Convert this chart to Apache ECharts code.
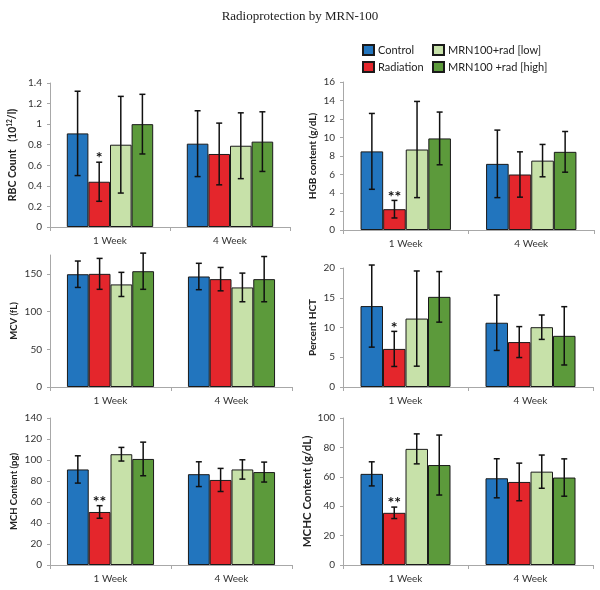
<html>
<head>
<meta charset="utf-8">
<script type="text/javascript" src="https://cdn.jsdelivr.net/npm/echarts@6/dist/echarts.min.js"></script>
<style type="text/css">
	body { margin: 0; background: #fff; }
	#chart { width: 600px; height: 590px; }
</style>
<title>Radioprotection by MRN-100</title>
</head>
<body>
<div id="chart"></div>
<script type="text/javascript">
// categories / groups
const weeks = ['1 Week', '4 Week'];
const groups = ['Control', 'Radiation', 'MRN100+rad [low]', 'MRN100 +rad [high]'];
const colors = ['#2275be', '#e4262c', '#c7e1a9', '#5c9a3b'];

// values: one row per group, [1 Week, 4 Week]
const rbcMean = [[0.91, 0.81], [0.44, 0.71], [0.80, 0.79], [1.00, 0.83]];
const rbcSd   = [[0.41, 0.32], [0.19, 0.30], [0.47, 0.32], [0.29, 0.29]];
const hgbMean = [[8.5, 7.15], [2.25, 6.0], [8.7, 7.5], [9.9, 8.45]];
const hgbSd   = [[4.1, 3.65], [0.95, 2.45], [5.2, 1.75], [2.85, 2.2]];
const mcvMean = [[149.5, 146.5], [150, 143], [136, 132], [153.5, 143]];
const mcvSd   = [[17.5, 17.5], [20.5, 15.5], [16, 19], [24, 30]];
const hctMean = [[13.6, 10.8], [6.4, 7.55], [11.5, 10.05], [15.15, 8.6]];
const hctSd   = [[6.9, 4.65], [2.95, 2.6], [8.0, 2.05], [4.25, 4.9]];
const mchMean = [[91, 86.5], [50.5, 81], [105.5, 91], [101, 88.5]];
const mchSd   = [[13, 11.8], [6, 11], [6.5, 9.2], [16, 9.5]];
const mchcMean = [[62, 59], [35.5, 56.5], [79, 63.5], [68, 59.5]];
const mchcSd   = [[8.2, 13.3], [3.9, 12.8], [10.2, 11.3], [20.4, 12.7]];

// significance marks, one row per group, [1 Week, 4 Week]
const rbcSig  = [['', ''], ['*', ''], ['', ''], ['', '']];
const hgbSig  = [['', ''], ['**', ''], ['', ''], ['', '']];
const mcvSig  = [['', ''], ['', ''], ['', ''], ['', '']];
const hctSig  = [['', ''], ['*', ''], ['', ''], ['', '']];
const mchSig  = [['', ''], ['**', ''], ['', ''], ['', '']];
const mchcSig = [['', ''], ['**', ''], ['', ''], ['', '']];

const GAP = 0.28;
const FONT = 'Lato, "Open Sans", sans-serif';
const AXIS = '#a8a8a8';

const panels = [
	{ name: 'RBC Count   (10{sup|12}/l)', nameSize: 10.5, mean: rbcMean, sd: rbcSd, sig: rbcSig, max: 1.4, interval: 0.2,
	  grid: { left: 50, right: 310, top: 83, bottom: 363 } },
	{ name: 'HGB content (g/dL)', nameSize: 10, mean: hgbMean, sd: hgbSd, sig: hgbSig, max: 16, interval: 2,
	  grid: { left: 343, right: 6, top: 82, bottom: 360 } },
	{ name: 'MCV (fL)', nameSize: 9.5, mean: mcvMean, sd: mcvSd, sig: mcvSig, max: 175, interval: 50, hideMax: true,
	  grid: { left: 50, right: 308, top: 255, bottom: 203 } },
	{ name: 'Percent HCT', nameSize: 10, mean: hctMean, sd: hctSd, sig: hctSig, max: 20, interval: 5,
	  grid: { left: 343, right: 7, top: 268, bottom: 203 } },
	{ name: 'MCH Content (pg)', nameSize: 9.5, mean: mchMean, sd: mchSd, sig: mchSig, max: 140, interval: 20,
	  grid: { left: 50, right: 308, top: 418, bottom: 25 } },
	{ name: 'MCHC Content (g/dL)', nameSize: 11.5, mean: mchcMean, sd: mchcSd, sig: mchcSig, max: 100, interval: 20,
	  grid: { left: 343, right: 7, top: 418, bottom: 25 } }
];

function errRender(gi, sig) {
	return function (params, api) {
		let cat = api.value(0);
		let lo = api.coord([cat, api.value(1)]);
		let hi = api.coord([cat, api.value(2)]);
		let band = api.size([1, 0])[0];
		let bw = band * (1 - GAP) / 4;
		let x = lo[0] + (gi - 1.5) * bw;
		let cap = 3;
		let st = { stroke: '#111', lineWidth: 1.5 };
		let children = [
			{ type: 'line', shape: { x1: x, y1: lo[1], x2: x, y2: hi[1] }, style: st },
			{ type: 'line', shape: { x1: x - cap, y1: lo[1], x2: x + cap, y2: lo[1] }, style: st },
			{ type: 'line', shape: { x1: x - cap, y1: hi[1], x2: x + cap, y2: hi[1] }, style: st }
		];
		let mark = sig[params.dataIndex];
		if (mark) {
			children.push({
				type: 'text',
				style: { text: mark, x: x, y: hi[1] + 4, align: 'center', verticalAlign: 'bottom',
					fill: '#111', font: 'bold 16px ' + FONT }
			});
		}
		return { type: 'group', children: children };
	};
}

let grids = [], xAxes = [], yAxes = [], series = [];
panels.forEach(function (p, k) {
	grids.push(p.grid);
	xAxes.push({
		type: 'category', gridIndex: k, data: weeks,
		axisLine: { lineStyle: { color: AXIS, width: 1 } },
		axisTick: { show: true, length: 4, lineStyle: { color: AXIS } },
		axisLabel: { color: '#333', fontSize: 10, fontFamily: FONT, margin: 9 }
	});
	yAxes.push({
		type: 'value', gridIndex: k, min: 0, max: p.max, interval: p.interval,
		name: p.name, nameLocation: 'middle', nameGap: (k % 2 === 0 ? 31 : 25), nameRotate: 90,
		nameTextStyle: { color: '#222', fontSize: p.nameSize, fontWeight: 'bold', fontFamily: FONT,
			rich: { sup: { fontSize: 6.5, fontWeight: 'bold', verticalAlign: 'top', padding: [0, 0, 6, 0] } } },
		splitLine: { show: false },
		axisLine: { show: true, lineStyle: { color: AXIS, width: 1 } },
		axisTick: { show: true, length: 3, lineStyle: { color: AXIS } },
		axisLabel: { color: '#333', fontSize: 10, fontFamily: FONT, margin: 8, showMaxLabel: !p.hideMax }
	});
	groups.forEach(function (g, gi) {
		series.push({
			type: 'bar', name: g, xAxisIndex: k, yAxisIndex: k,
			data: p.mean[gi], barGap: '0%', barCategoryGap: (GAP * 100) + '%',
			itemStyle: { color: colors[gi], borderColor: '#1a1a1a', borderWidth: 1 },
			emphasis: { disabled: true }
		});
	});
	groups.forEach(function (g, gi) {
		series.push({
			type: 'custom', xAxisIndex: k, yAxisIndex: k, z: 5,
			renderItem: errRender(gi, p.sig[gi]),
			encode: { x: 0, y: [1, 2] },
			data: p.mean[gi].map(function (m, c) { return [c, m - p.sd[gi][c], m + p.sd[gi][c]]; })
		});
	});
});

let legendBase = {
	orient: 'vertical', itemWidth: 11, itemHeight: 10, itemGap: 5, icon: 'rect',
	textStyle: { color: '#222', fontSize: 11, fontFamily: FONT, padding: [0, 0, 0, -1] },
	padding: 0
};

let option = {
	backgroundColor: '#fff',
	animation: false,
	title: {
		text: 'Radioprotection by MRN-100', left: 'center', top: 5,
		textStyle: { fontFamily: '"Liberation Serif", "Times New Roman", serif', fontWeight: 'normal', fontSize: 13, color: '#222' }
	},
	legend: [
		Object.assign({}, legendBase, { data: groups.slice(0, 2), left: 362, top: 44 }),
		Object.assign({}, legendBase, { data: groups.slice(2), left: 432, top: 44 })
	],
	grid: grids,
	xAxis: xAxes,
	yAxis: yAxes,
	series: series
};

var myChart = echarts.init(document.getElementById('chart'));
myChart.setOption(option);
</script>
</body>
</html>
